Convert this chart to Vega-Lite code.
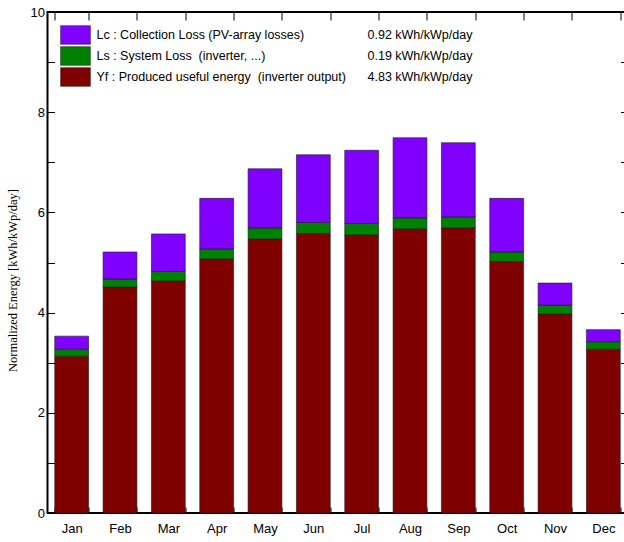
{
  "$schema": "https://vega.github.io/schema/vega-lite/v6.json",
  "width": 580,
  "height": 501,
  "autosize": {"type": "none"},
  "padding": {"left": 47.5, "top": 12, "right": 0, "bottom": 29},
  "background": "white",
  "config": {
    "view": {"stroke": "#000000", "strokeWidth": 2},
    "axis": {"grid": false, "domain": false, "tickColor": "#000000", "tickWidth": 1, "labelColor": "#000000", "titleColor": "#000000"},
    "legend": {"rowPadding": -7.5, "symbolStrokeWidth": 0.5}
  },
  "datasets": {
    "annual": [
      {"component": "Lc : Collection Loss (PV-array losses)", "avg": "0.92 kWh/kWp/day"},
      {"component": "Ls : System Loss\u00a0 (inverter, ...)", "avg": "0.19 kWh/kWp/day"},
      {"component": "Yf : Produced useful energy\u00a0 (inverter output)", "avg": "4.83 kWh/kWp/day"}
    ]
  },
  "data": {
    "values": [
      {"month": "Jan", "component": "Yf : Produced useful energy\u00a0 (inverter output)", "value": 3.13},
      {"month": "Jan", "component": "Ls : System Loss\u00a0 (inverter, ...)", "value": 0.14},
      {"month": "Jan", "component": "Lc : Collection Loss (PV-array losses)", "value": 0.26},
      {"month": "Feb", "component": "Yf : Produced useful energy\u00a0 (inverter output)", "value": 4.51},
      {"month": "Feb", "component": "Ls : System Loss\u00a0 (inverter, ...)", "value": 0.16},
      {"month": "Feb", "component": "Lc : Collection Loss (PV-array losses)", "value": 0.54},
      {"month": "Mar", "component": "Yf : Produced useful energy\u00a0 (inverter output)", "value": 4.63},
      {"month": "Mar", "component": "Ls : System Loss\u00a0 (inverter, ...)", "value": 0.19},
      {"month": "Mar", "component": "Lc : Collection Loss (PV-array losses)", "value": 0.75},
      {"month": "Apr", "component": "Yf : Produced useful energy\u00a0 (inverter output)", "value": 5.07},
      {"month": "Apr", "component": "Ls : System Loss\u00a0 (inverter, ...)", "value": 0.20},
      {"month": "Apr", "component": "Lc : Collection Loss (PV-array losses)", "value": 1.01},
      {"month": "May", "component": "Yf : Produced useful energy\u00a0 (inverter output)", "value": 5.47},
      {"month": "May", "component": "Ls : System Loss\u00a0 (inverter, ...)", "value": 0.22},
      {"month": "May", "component": "Lc : Collection Loss (PV-array losses)", "value": 1.18},
      {"month": "Jun", "component": "Yf : Produced useful energy\u00a0 (inverter output)", "value": 5.58},
      {"month": "Jun", "component": "Ls : System Loss\u00a0 (inverter, ...)", "value": 0.22},
      {"month": "Jun", "component": "Lc : Collection Loss (PV-array losses)", "value": 1.35},
      {"month": "Jul", "component": "Yf : Produced useful energy\u00a0 (inverter output)", "value": 5.55},
      {"month": "Jul", "component": "Ls : System Loss\u00a0 (inverter, ...)", "value": 0.23},
      {"month": "Jul", "component": "Lc : Collection Loss (PV-array losses)", "value": 1.46},
      {"month": "Aug", "component": "Yf : Produced useful energy\u00a0 (inverter output)", "value": 5.67},
      {"month": "Aug", "component": "Ls : System Loss\u00a0 (inverter, ...)", "value": 0.22},
      {"month": "Aug", "component": "Lc : Collection Loss (PV-array losses)", "value": 1.60},
      {"month": "Sep", "component": "Yf : Produced useful energy\u00a0 (inverter output)", "value": 5.69},
      {"month": "Sep", "component": "Ls : System Loss\u00a0 (inverter, ...)", "value": 0.22},
      {"month": "Sep", "component": "Lc : Collection Loss (PV-array losses)", "value": 1.48},
      {"month": "Oct", "component": "Yf : Produced useful energy\u00a0 (inverter output)", "value": 5.02},
      {"month": "Oct", "component": "Ls : System Loss\u00a0 (inverter, ...)", "value": 0.19},
      {"month": "Oct", "component": "Lc : Collection Loss (PV-array losses)", "value": 1.07},
      {"month": "Nov", "component": "Yf : Produced useful energy\u00a0 (inverter output)", "value": 3.97},
      {"month": "Nov", "component": "Ls : System Loss\u00a0 (inverter, ...)", "value": 0.18},
      {"month": "Nov", "component": "Lc : Collection Loss (PV-array losses)", "value": 0.44},
      {"month": "Dec", "component": "Yf : Produced useful energy\u00a0 (inverter output)", "value": 3.27},
      {"month": "Dec", "component": "Ls : System Loss\u00a0 (inverter, ...)", "value": 0.15},
      {"month": "Dec", "component": "Lc : Collection Loss (PV-array losses)", "value": 0.24}
    ]
  },
  "transform": [
    {"lookup": "component", "from": {"data": {"name": "annual"}, "key": "component", "fields": ["avg"]}}
  ],
  "layer": [
    {
      "mark": {"type": "bar", "stroke": "#1a1a1a", "strokeOpacity": 0.6, "strokeWidth": 1},
      "encoding": {
        "x": {
          "field": "month", "type": "nominal",
          "sort": ["Jan", "Feb", "Mar", "Apr", "May", "Jun", "Jul", "Aug", "Sep", "Oct", "Nov", "Dec"],
          "scale": {"paddingInner": 0.3, "paddingOuter": 0.15},
          "axis": {"orient": "bottom", "title": null, "labelAngle": 0, "tickBand": "extent", "tickSize": -6, "labelFont": "Liberation Sans", "labelFontSize": 13, "labelPadding": 15}
        },
        "y": {
          "field": "value", "type": "quantitative", "stack": "zero",
          "scale": {"domain": [0, 10], "nice": false},
          "axis": {
            "orient": "left",
            "values": [0, 1, 2, 3, 4, 5, 6, 7, 8, 9, 10],
            "labelExpr": "datum.value % 2 === 0 ? datum.label : ''",
            "tickSize": -7,
            "labelFont": "Liberation Sans", "labelFontSize": 13, "labelPadding": 10,
            "title": "Normalized Energy  [kWh/kWp/day]",
            "titleFont": "Liberation Serif", "titleFontSize": 12.5, "titleFontWeight": "normal",
            "titleX": -28, "titleY": 268,
            "encode": {"ticks": {"update": {"x2": {"signal": "datum.value % 2 === 0 ? 7 : 4"}}}}
          }
        },
        "color": {
          "field": "component", "type": "nominal",
          "scale": {
            "domain": ["Lc : Collection Loss (PV-array losses)", "Ls : System Loss\u00a0 (inverter, ...)", "Yf : Produced useful energy\u00a0 (inverter output)"],
            "range": ["#8000ff", "#008000", "#800000"]
          },
          "legend": {
            "orient": "none", "legendX": 18, "legendY": 13, "title": null,
            "symbolType": "M-1.6,-1H1.6V1H-1.6Z", "symbolSize": 349,
            "symbolStrokeColor": "#222222", "symbolStrokeWidth": 0.5, "symbolOpacity": 1,
            "labelFont": "Liberation Sans", "labelFontSize": 12.5, "labelColor": "#000000",
            "labelOffset": 11, "rowPadding": -7.5, "padding": 0, "labelLimit": 400
          }
        },
        "opacity": {
          "field": "avg", "type": "nominal",
          "scale": {"domain": ["0.92 kWh/kWp/day", "0.19 kWh/kWp/day", "4.83 kWh/kWp/day"], "range": [1, 1]},
          "legend": {
            "orient": "none", "legendX": 298, "legendY": 13, "title": null,
            "symbolType": "square", "symbolSize": 349, "symbolOpacity": 0,
            "symbolFillColor": "transparent", "symbolStrokeColor": "transparent", "symbolStrokeWidth": 0.5,
            "labelFont": "Liberation Sans", "labelFontSize": 12.5, "labelColor": "#000000",
            "labelOffset": 2, "rowPadding": -7.5, "padding": 0, "labelLimit": 300,
            "encode": {"symbols": {
              "enter": {"fill": {"value": "transparent"}, "stroke": {"value": "transparent"}, "opacity": {"value": 0}},
              "update": {"fill": {"value": "transparent"}, "stroke": {"value": "transparent"}, "opacity": {"value": 0}}
            }}
          }
        },
        "order": {"field": "component", "sort": "descending"}
      }
    },
    {
      "mark": {"type": "bar", "opacity": 0},
      "encoding": {
        "x": {
          "field": "month", "type": "nominal",
          "sort": ["Jan", "Feb", "Mar", "Apr", "May", "Jun", "Jul", "Aug", "Sep", "Oct", "Nov", "Dec"],
          "axis": {"orient": "top", "title": null, "labels": false, "tickBand": "extent", "tickSize": -8}
        },
        "y": {
          "field": "value", "type": "quantitative",
          "axis": {
            "orient": "right", "title": null, "labels": false,
            "values": [0, 1, 2, 3, 4, 5, 6, 7, 8, 9, 10],
            "tickSize": -7,
            "encode": {"ticks": {"update": {"x2": {"signal": "datum.value % 2 === 0 ? -7 : -4"}}}}
          }
        }
      }
    }
  ]
}
